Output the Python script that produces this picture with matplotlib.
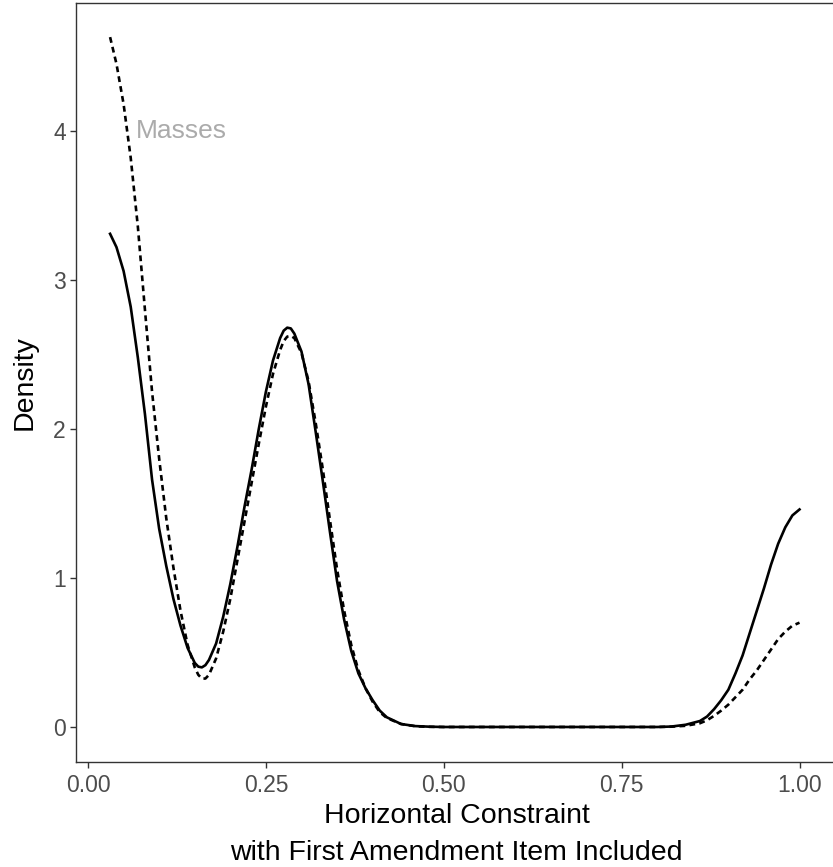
import matplotlib
matplotlib.use("Agg")
import matplotlib.pyplot as plt

plt.rcParams.update({"font.family": ["Liberation Sans", "DejaVu Sans"]})

# density estimates
x_vals = [0.031, 0.04, 0.05, 0.06, 0.07, 0.08, 0.09, 0.10, 0.11, 0.12,
          0.13, 0.14, 0.15, 0.155, 0.16, 0.165, 0.17, 0.18, 0.19, 0.20,
          0.21, 0.22, 0.23, 0.24, 0.25, 0.26, 0.27, 0.275, 0.28, 0.285,
          0.29, 0.30, 0.31, 0.32, 0.33, 0.34, 0.35, 0.36, 0.37, 0.38,
          0.39, 0.40, 0.41, 0.42, 0.44, 0.46, 0.48, 0.50, 0.60, 0.70,
          0.80, 0.82, 0.84, 0.86, 0.87, 0.88, 0.89, 0.90, 0.91, 0.92,
          0.93, 0.94, 0.95, 0.96, 0.97, 0.98, 0.99, 1.00]

solid_density = [3.31, 3.22, 3.06, 2.82, 2.48, 2.10, 1.66, 1.33, 1.08, 0.86,
                 0.68, 0.53, 0.43, 0.405, 0.40, 0.415, 0.45, 0.56, 0.74, 0.96,
                 1.21, 1.48, 1.73, 2.00, 2.25, 2.46, 2.61, 2.66, 2.68, 2.675,
                 2.64, 2.52, 2.30, 1.98, 1.65, 1.31, 0.98, 0.72, 0.51, 0.36,
                 0.26, 0.18, 0.11, 0.065, 0.02, 0.006, 0.002, 0.0, 0.0, 0.0,
                 0.0, 0.003, 0.015, 0.04, 0.07, 0.12, 0.18, 0.25, 0.36, 0.48,
                 0.63, 0.78, 0.93, 1.09, 1.23, 1.34, 1.42, 1.46]

dashed_density = [4.63, 4.45, 4.18, 3.82, 3.36, 2.80, 2.25, 1.80, 1.40, 1.07,
                  0.78, 0.55, 0.40, 0.35, 0.325, 0.325, 0.35, 0.46, 0.64, 0.86,
                  1.12, 1.38, 1.64, 1.90, 2.15, 2.37, 2.53, 2.59, 2.62, 2.625,
                  2.61, 2.51, 2.32, 2.04, 1.73, 1.39, 1.06, 0.78, 0.55, 0.38,
                  0.26, 0.17, 0.10, 0.06, 0.02, 0.005, 0.001, 0.0, 0.0, 0.0,
                  0.0, 0.002, 0.008, 0.025, 0.045, 0.075, 0.11, 0.15, 0.20, 0.25,
                  0.32, 0.38, 0.45, 0.52, 0.59, 0.64, 0.68, 0.70]

x_ticks = [0.0, 0.25, 0.5, 0.75, 1.0]
x_tick_labels = ["0.00", "0.25", "0.50", "0.75", "1.00"]
y_ticks = [0, 1, 2, 3, 4]

W, H = 833, 867
fig = plt.figure(figsize=(W / 100, H / 100), dpi=100)
ax = fig.add_axes([76 / W, 1 - 762 / H, (837 - 76) / W, (762 - 3) / H])

ax.plot(x_vals, solid_density, color="black", lw=1.9)
ax.plot(x_vals, dashed_density, color="black", lw=1.9, linestyle=(0, (2.2, 1.6)))
ax.text(0.067, 4.0, "Masses", color="#ABABAB", fontsize=19, ha="left", va="center")

ax.set_xlim(-0.0169, 1.0527)
ax.set_ylim(-0.235, 4.859)
ax.set_xticks(x_ticks)
ax.set_xticklabels(x_tick_labels)
ax.set_yticks(y_ticks)

for side in ["left", "top", "bottom"]:
    ax.spines[side].set_color("#333333")
    ax.spines[side].set_linewidth(1.0)
ax.spines["right"].set_visible(False)
ax.tick_params(axis="both", colors="#333333", labelcolor="#4D4D4D",
               labelsize=16.5, length=4.3, width=1.0)
ax.tick_params(axis="x", pad=4)
ax.tick_params(axis="y", pad=3)

ax.set_xlabel("Horizontal Constraint\nwith First Amendment Item Included",
              fontsize=20.5, labelpad=5, linespacing=1.55)
ax.set_ylabel("Density", fontsize=20.5, labelpad=11)

fig.savefig("out.png", dpi=100)
